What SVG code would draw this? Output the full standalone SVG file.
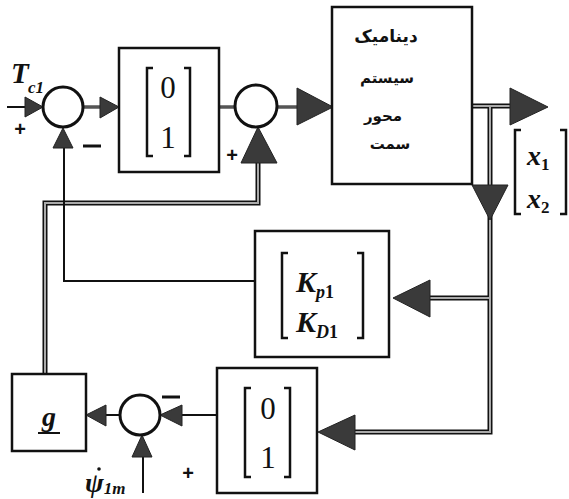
<svg xmlns="http://www.w3.org/2000/svg" width="569" height="499" viewBox="0 0 569 499">
<style>
.box{fill:#fff;stroke:#111;stroke-width:2.5}
.sum{fill:#fff;stroke:#111;stroke-width:3}
.thin{fill:none;stroke:#111;stroke-width:2}
.gray{fill:none;stroke:#555;stroke-width:3.5}
.dblo{fill:none;stroke:#111;stroke-width:5}
.dbli{fill:none;stroke:#aaa;stroke-width:2}
.head{fill:#3a3a3a;stroke:#222;stroke-width:1}
.brk{fill:none;stroke:#111;stroke-width:2.5}
.num{font-family:'Liberation Serif','Times New Roman',serif;font-size:31px;text-anchor:middle;fill:#111}
.ital{font-family:'Liberation Serif','Times New Roman',serif;font-style:italic;font-weight:bold;fill:#111}
.fa{font-family:'DejaVu Sans',sans-serif;font-weight:bold;text-anchor:middle;fill:#111}
.sign{font-family:'Liberation Sans',Arial,sans-serif;font-size:20px;font-weight:bold;text-anchor:middle;fill:#111}
</style>
<rect width="569" height="499" fill="#fff"/>
<g id="connectors">
  <path class="dblo" d="M258,163 V203 H45 V374"/>
  <path class="dbli" d="M258,163 V203 H45 V374"/>
  <path class="dblo" d="M472,106 H512 M490,106 V432 H353 M490,298 H428"/>
  <path class="dbli" d="M472,106 H512 M490,106 V432 H353 M490,298 H428"/>
  <path class="thin" d="M7,107 H28"/>
  <path class="gray" d="M83,107 H102"/>
  <path class="gray" d="M219,107 H236"/>
  <path class="gray" d="M277,107 H300"/>
  <path class="thin" d="M255,281 H64 V148"/>
  <path class="thin" d="M217,415 H180"/>
  <path class="thin" d="M120,415 H104"/>
  <path class="thin" d="M143,493 V456"/>
  <polygon class="head" points="25,97 43,107 25,117"/>
  <polygon class="head" points="100,97 119,107 100,118"/>
  <polygon class="head" points="297,88 333,107 297,125"/>
  <polygon class="head" points="510,88 548,107 510,125"/>
  <polygon class="head" points="472,185 508,185 490,220"/>
  <polygon class="head" points="430,280 393,298 430,317"/>
  <polygon class="head" points="355,415 318,432 355,450"/>
  <polygon class="head" points="241,163 258,127 277,163"/>
  <polygon class="head" points="53,148 63,128 73,148"/>
  <polygon class="head" points="182,405 160,415 182,426"/>
  <polygon class="head" points="106,405 86,415 106,426"/>
  <polygon class="head" points="132,457 142,435 152,457"/>
</g>
<g id="sum1">
  <circle class="sum" cx="63" cy="107" r="20"/>
  <text class="ital" x="11" y="83" font-size="29">T</text>
  <text class="ital" x="28" y="93" font-size="17">c1</text>
  <text class="sign" x="20" y="136">+</text>
  <path d="M83,146 H101" stroke="#111" stroke-width="3"/>
</g>
<g id="box1">
  <rect class="box" x="119" y="48" width="100" height="124"/>
  <path class="brk" d="M153,68 H147 V156 H153 M184,68 H190 V156 H184"/>
  <text class="num" x="168" y="98">0</text>
  <text class="num" x="168" y="148">1</text>
</g>
<g id="sum2">
  <circle class="sum" cx="256" cy="106" r="21"/>
  <text class="sign" x="232" y="162">+</text>
</g>
<g id="dynamics">
  <rect class="box" x="332" y="7" width="140" height="177"/>
  <text class="fa" x="386" y="42" font-size="17">دینامیک</text>
  <text class="fa" x="387" y="83" font-size="15">سیستم</text>
  <text class="fa" x="383" y="121" font-size="15">محور</text>
  <text class="fa" x="390" y="149" font-size="15">سمت</text>
</g>
<g id="output">
  <path class="brk" d="M521,130 H515 V214 H521 M560,130 H566 V214 H560"/>
  <text class="ital" x="527" y="165" font-size="28" font-weight="normal">x<tspan font-size="17" dy="5" font-style="normal">1</tspan></text>
  <text class="ital" x="527" y="208" font-size="28" font-weight="normal">x<tspan font-size="17" dy="5" font-style="normal">2</tspan></text>
</g>
<g id="kbox">
  <rect class="box" x="255" y="231" width="134" height="126"/>
  <path class="brk" d="M288,253 H282 V338 H288 M357,253 H363 V338 H357"/>
  <text class="ital" x="296" y="292" font-size="30">K<tspan font-size="18" dy="6">p</tspan><tspan font-size="18" font-style="normal">1</tspan></text>
  <text class="ital" x="296" y="332" font-size="30">K<tspan font-size="18" dy="6">D</tspan><tspan font-size="18" font-style="normal">1</tspan></text>
</g>
<g id="box2">
  <rect class="box" x="217" y="368" width="100" height="125"/>
  <path class="brk" d="M251,388 H245 V477 H251 M284,388 H290 V477 H284"/>
  <text class="num" x="268" y="419">0</text>
  <text class="num" x="268" y="468">1</text>
</g>
<g id="sum3">
  <circle class="sum" cx="140" cy="415" r="20"/>
  <path d="M162,397 H180" stroke="#111" stroke-width="3"/>
  <text class="sign" x="188" y="480">+</text>
  <text class="ital" x="85" y="492" font-size="28">ψ<tspan font-size="17" dy="2">1m</tspan></text>
  <circle cx="99" cy="469" r="1.8" fill="#111"/>
</g>
<g id="gbox">
  <rect class="box" x="12" y="374" width="74" height="77"/>
  <text class="ital" x="49" y="426" font-size="28" text-anchor="middle">g</text>
  <path d="M38,433 H60" stroke="#111" stroke-width="2"/>
</g>
</svg>
